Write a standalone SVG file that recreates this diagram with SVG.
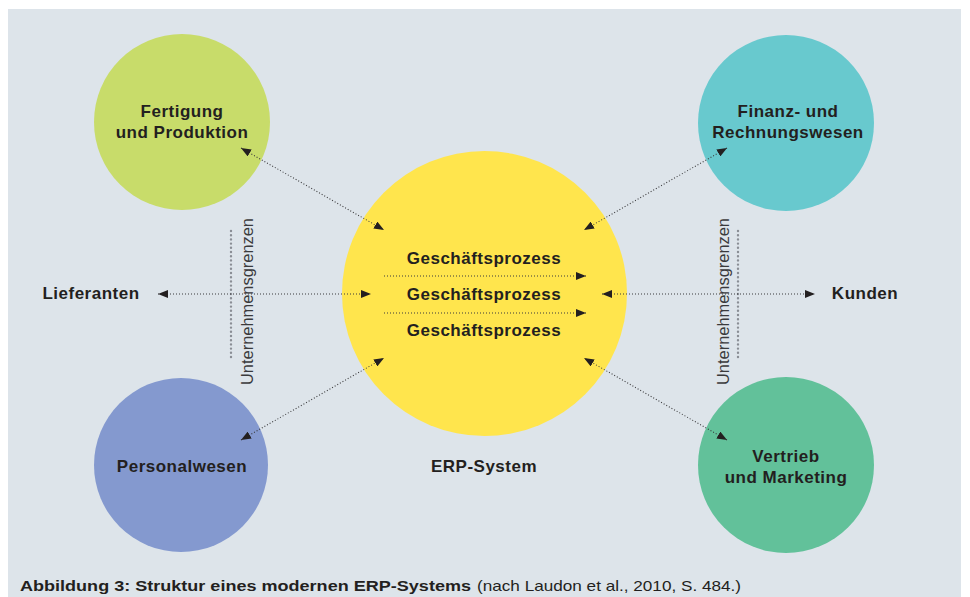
<svg xmlns="http://www.w3.org/2000/svg" width="970" height="597" viewBox="0 0 970 597">
<defs>
<style>
.lbl{font-family:"Liberation Sans",Arial,sans-serif;font-weight:bold;font-size:17px;fill:#231f20;text-anchor:middle;letter-spacing:0.5px}
.dot{fill:none;stroke:#3a3a3c;stroke-width:1.1;stroke-dasharray:1 2}
.bound{fill:none;stroke:#8a8e95;stroke-width:2.4;stroke-dasharray:0 4.2;stroke-linecap:round}
.grenze{font-family:"Liberation Sans",Arial,sans-serif;font-size:16.5px;fill:#3a3a3c;text-anchor:middle}
</style>
<marker id="ah" viewBox="0 0 10 8" refX="10" refY="4" markerWidth="10" markerHeight="8" markerUnits="userSpaceOnUse" orient="auto-start-reverse">
<path d="M0,0 L10,4 L0,8 Z" fill="#231f20"/>
</marker>
</defs>
<rect x="8" y="9" width="953" height="588" fill="#dde4ea"/>

<g id="erp">
<circle cx="484.5" cy="293.5" r="142.5" fill="#ffe54d"/>
<text class="lbl" x="484" y="264">Geschäftsprozess</text>
<text class="lbl" x="484" y="300">Geschäftsprozess</text>
<text class="lbl" x="484" y="336">Geschäftsprozess</text>
<text class="lbl" x="484" y="472">ERP-System</text>
</g>

<g id="fertigung">
<circle cx="182" cy="122" r="88" fill="#c8dc6a"/>
<text class="lbl" x="182" y="117">Fertigung</text>
<text class="lbl" x="182" y="138">und Produktion</text>
</g>

<g id="finanz">
<circle cx="786" cy="123" r="88" fill="#68c9ce"/>
<text class="lbl" x="788" y="117">Finanz- und</text>
<text class="lbl" x="788" y="138">Rechnungswesen</text>
</g>

<g id="personal">
<circle cx="181" cy="465" r="87" fill="#8499cf"/>
<text class="lbl" x="182" y="472">Personalwesen</text>
</g>

<g id="vertrieb">
<circle cx="786" cy="465" r="88" fill="#62c19a"/>
<text class="lbl" x="786" y="462">Vertrieb</text>
<text class="lbl" x="786" y="483">und Marketing</text>
</g>

<g id="lieferanten">
<text class="lbl" x="91" y="299">Lieferanten</text>
</g>

<g id="kunden">
<text class="lbl" x="865" y="299">Kunden</text>
</g>

<g id="grenzen">
<line class="bound" x1="231" y1="231" x2="231" y2="357"/>
<line class="bound" x1="738" y1="231" x2="738" y2="357"/>
<text class="grenze" transform="translate(252.5 301.5) rotate(-90)" textLength="167" lengthAdjust="spacingAndGlyphs">Unternehmensgrenzen</text>
<text class="grenze" transform="translate(729 301.5) rotate(-90)" textLength="167" lengthAdjust="spacingAndGlyphs">Unternehmensgrenzen</text>
</g>

<g id="connectors">
<line class="dot" x1="241" y1="148" x2="384" y2="230" marker-start="url(#ah)" marker-end="url(#ah)"/>
<line class="dot" x1="727" y1="148" x2="584" y2="230" marker-start="url(#ah)" marker-end="url(#ah)"/>
<line class="dot" x1="241" y1="440" x2="384" y2="358" marker-start="url(#ah)" marker-end="url(#ah)"/>
<line class="dot" x1="727" y1="440" x2="584" y2="358" marker-start="url(#ah)" marker-end="url(#ah)"/>
<line class="dot" x1="158" y1="294" x2="371" y2="294" marker-start="url(#ah)" marker-end="url(#ah)"/>
<line class="dot" x1="602" y1="294" x2="815" y2="294" marker-start="url(#ah)" marker-end="url(#ah)"/>
<line class="dot" x1="384" y1="276" x2="586" y2="276" marker-end="url(#ah)"/>
<line class="dot" x1="384" y1="313" x2="586" y2="313" marker-end="url(#ah)"/>
</g>

<g id="caption">
<text x="20" y="591" font-family="'Liberation Sans',Arial,sans-serif" font-size="15" fill="#231f20" font-weight="bold" textLength="451" lengthAdjust="spacingAndGlyphs">Abbildung 3: Struktur eines modernen ERP-Systems</text>
<text x="477" y="591" font-family="'Liberation Sans',Arial,sans-serif" font-size="15" fill="#231f20" textLength="264" lengthAdjust="spacingAndGlyphs">(nach Laudon et al., 2010, S. 484.)</text>
</g>
</svg>
